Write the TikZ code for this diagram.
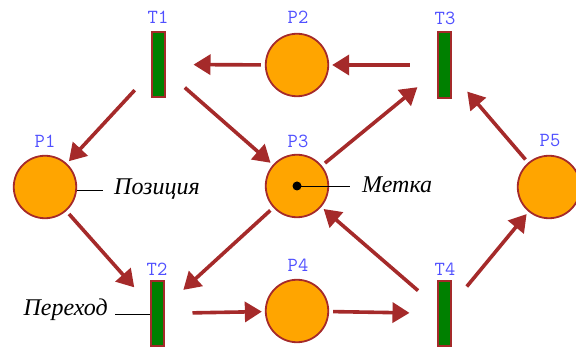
\documentclass[tikz,border=0pt]{standalone}
\usepackage{fontspec}
\setmainfont{Liberation Serif}
\usetikzlibrary{arrows.meta}
\definecolor{arcred}{RGB}{165,42,42}
\definecolor{placefill}{RGB}{255,165,0}
\definecolor{transfill}{RGB}{0,128,0}
\definecolor{namecol}{RGB}{80,80,255}
\tikzset{
  place/.style={circle, draw=arcred, line width=1.8pt, fill=placefill,
    minimum size=62.5pt, inner sep=0pt},
  trans/.style={rectangle, draw=arcred, line width=1.8pt, fill=transfill,
    minimum width=13.5pt, minimum height=65.5pt, inner sep=0pt},
  pname/.style={text=namecol, font=\ttfamily\fontsize{20}{20}\selectfont, inner sep=0pt},
  arc/.style={draw=arcred, line width=3.6pt,
    -{Triangle[length=17pt,width=20pt]}},
  fromT/.style={shorten <=35pt},
  toT/.style={shorten >=35pt},
  fromP/.style={shorten <=4pt},
  toP/.style={shorten >=3pt},
  note/.style={font=\itshape\fontsize{24}{24}\selectfont, inner sep=0pt},
  pointer/.style={draw=black, line width=0.9pt}
}
\begin{document}
\begin{tikzpicture}[x=1pt, y=-1pt]
\useasboundingbox (0,0) rectangle (576,347);

% places
\node[place] (P1) at (45,187) {};
\node[place] (P2) at (297,65) {};
\node[place] (P3) at (297,186) {};
\node[place] (P4) at (297,311) {};
\node[place] (P5) at (549,187) {};

% transitions
\node[trans] (T1) at (158.5,64.5) {};
\node[trans] (T2) at (157.5,313.5) {};
\node[trans] (T3) at (444.5,65) {};
\node[trans] (T4) at (444.5,313.5) {};

% names
\node[pname] (nT1) at (158,17) {T1};
\node[pname] (nT2) at (157,269) {T2};
\node[pname] (nT3) at (445,18) {T3};
\node[pname] (nT4) at (445,269) {T4};
\node[pname] (nP1) at (45,141) {P1};
\node[pname] (nP2) at (298,17) {P2};
\node[pname] (nP3) at (298,141) {P3};
\node[pname] (nP4) at (298,265) {P4};
\node[pname] (nP5) at (550,141) {P5};

% arcs
\draw[arc, fromP, toT] (P2) -- (T1.center);
\draw[arc, fromT, toP] (T3.center) -- (P2);
\draw[arc, fromT, toP] (T1.center) -- (P1);
\draw[arc, fromT, toP] (T1.center) -- (P3);
\draw[arc, fromP, toT] (P3) -- (T3.center);
\draw[arc, fromP, toT] (P5) -- (T3.center);
\draw[arc, fromP, toT] (P1) -- (T2.center);
\draw[arc, fromP, toT] (P3) -- (T2.center);
\draw[arc, fromT, toP] (T2.center) -- (P4);
\draw[arc, fromP, toT] (P4) -- (T4.center);
\draw[arc, fromT, toP] (T4.center) -- (P3);
\draw[arc, fromT, toP] (T4.center) -- (P5);

% token
\fill[black] (P3.center) circle (4.5pt);

% annotations
\node[note, anchor=west] (pos) at (114,189) {Позиция};
\coordinate (posend) at (103,190);
\draw[pointer] (P1.east |- posend) -- (posend);

\node[note, anchor=west] (mark) at (362,185) {Метка};
\coordinate (markend) at (350,186);
\draw[pointer] (P3.center) -- (markend);

\node[note, anchor=east] (tr) at (108,310) {Переход};
\coordinate (trstart) at (115,314);
\draw[pointer] (trstart) -- (T2.west |- trstart);
\end{tikzpicture}
\end{document}
